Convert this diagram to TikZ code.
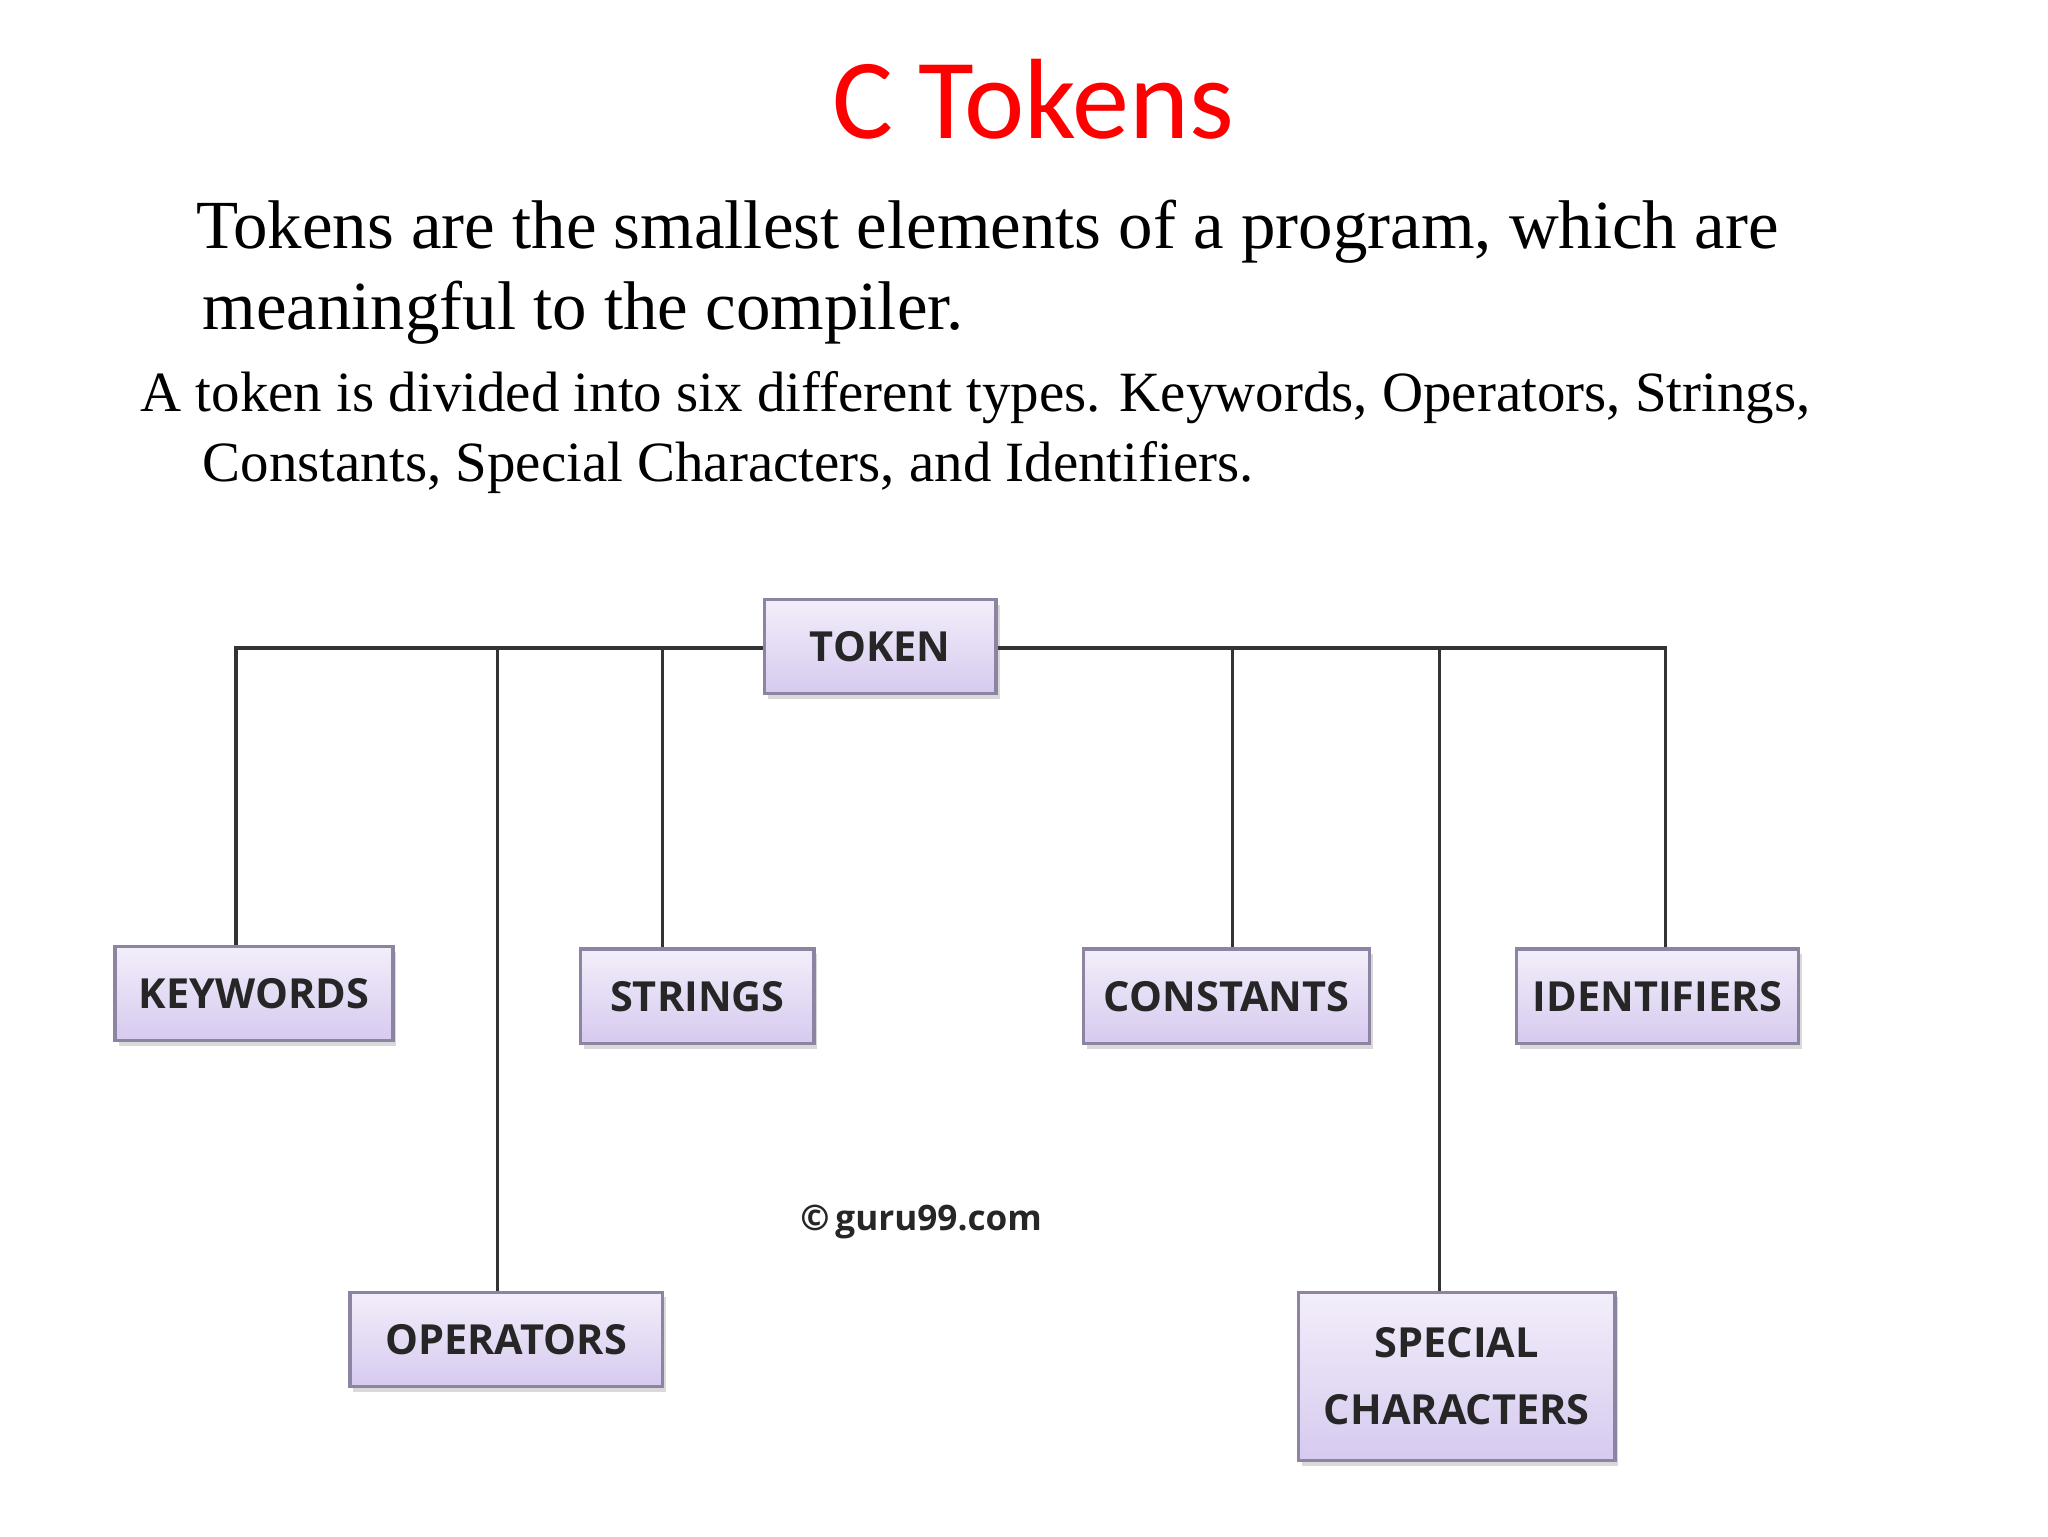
\documentclass[tikz,border=0pt]{standalone}
\usepackage{fontspec}
\setmainfont{Liberation Serif}
\newfontfamily\titlefont{Carlito}
\newfontfamily\boxfont{Open Sans}
\usetikzlibrary{shadows}
\definecolor{boxtop}{HTML}{F3EEFA}
\definecolor{boxbot}{HTML}{D6CAEF}
\definecolor{boxline}{HTML}{8C84A0}
\begin{document}
\begin{tikzpicture}[x=0.013196cm,y=-0.013196cm,
  tbox/.style={draw=boxline,line width=0.9pt,top color=boxtop,bottom color=boxbot,
    font=\boxfont\bfseries\fontsize{11.8}{19}\selectfont,text=black!85,align=center,inner sep=0pt,
    drop shadow={shadow xshift=1pt,shadow yshift=-1.5pt,fill=black!25,opacity=0.6}},
  link/.style={draw=black!80,line width=1pt}]
\useasboundingbox (0,0) rectangle (1552,1164);
\node[font=\titlefont\fontsize{32.5}{40}\selectfont,text=red,anchor=base] (title) at (783,105) {C Tokens};
\node[anchor=base west,font=\fontsize{19.6}{22}\selectfont,inner sep=0pt] (p1) at (148,188) {Tokens are the smallest elements of a program, which are};
\node[anchor=base west,font=\fontsize{19.6}{22}\selectfont,inner sep=0pt] (p2) at (153,250) {meaningful to the compiler.};
\node[anchor=base west,font=\fontsize{16.2}{18}\selectfont,inner sep=0pt] (p3) at (106,312) {A token is divided into six different types. Keywords, Operators, Strings,};
\node[anchor=base west,font=\fontsize{16.2}{18}\selectfont,inner sep=0pt] (p4) at (153,365) {Constants, Special Characters, and Identifiers.};

\def\bx#1#2#3#4#5#6{\node[tbox,minimum width=#4*0.013196cm-0.9pt,minimum height=#5*0.013196cm-0.9pt] (#1) at (#2,#3) {#6};}
\bx{token}{667}{490}{178}{74}{TOKEN}
\bx{kw}{192.5}{753}{213}{74}{KEYWORDS}
\bx{str}{528.5}{755}{179}{74}{STRINGS}
\bx{con}{929.5}{755}{219}{74}{CONSTANTS}
\bx{ide}{1256}{755}{216}{74}{IDENTIFIERS}
\bx{op}{383.5}{1015}{239}{74}{OPERATORS}
\bx{sp}{1104}{1043}{242}{130}{SPECIAL\\CHARACTERS}

\coordinate (c1) at (179,491);
\coordinate (c2) at (377,491);
\coordinate (c3) at (502,491);
\coordinate (c4) at (934,491);
\coordinate (c5) at (1091,491);
\coordinate (c6) at (1262,491);
\draw[link] (token.west |- c1) -- (c1) -- (c1 |- kw.north);
\draw[link] (c2) -- (c2 |- op.north);
\draw[link] (c3) -- (c3 |- str.north);
\draw[link] (token.east |- c6) -- (c6) -- (c6 |- ide.north);
\draw[link] (c4) -- (c4 |- con.north);
\draw[link] (c5) -- (c5 |- sp.north);

\node[font=\boxfont\bfseries\fontsize{10}{12}\selectfont,text=black!85,anchor=west,inner sep=0pt] (copy) at (606,926) {©\,guru99.com};
\end{tikzpicture}
\end{document}
